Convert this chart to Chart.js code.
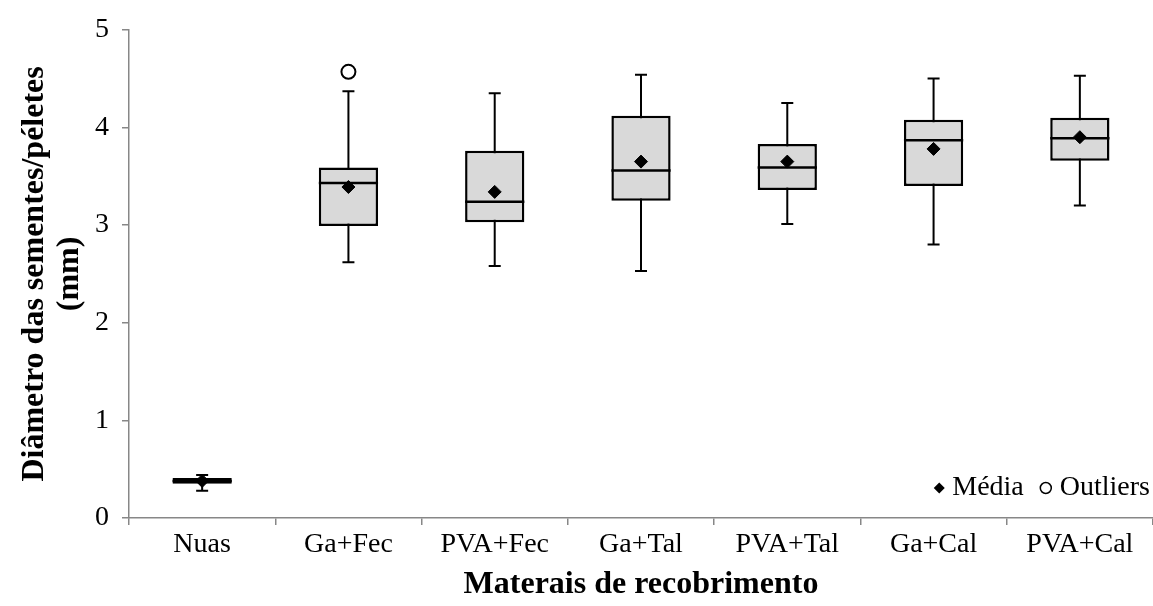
<!DOCTYPE html>
<html>
<head>
<meta charset="utf-8">
<script src="https://cdn.jsdelivr.net/npm/chart.js@4.4.0/dist/chart.umd.min.js"></script>
<style>
  html, body { margin: 0; padding: 0; background: #fff; overflow: hidden; }
  #wrap { width: 1162px; height: 606px; }
</style>
</head>
<body>
<div id="wrap"><canvas id="boxChart"></canvas></div>
<script>
// values (mm)
const labels   = ['Nuas', 'Ga+Fec', 'PVA+Fec', 'Ga+Tal', 'PVA+Tal', 'Ga+Cal', 'PVA+Cal'];
const mins     = [0.28, 2.62, 2.58, 2.53, 3.01, 2.80, 3.20];
const q1s      = [0.35, 2.99, 3.03, 3.25, 3.36, 3.40, 3.66];
const medians  = [0.38, 3.43, 3.24, 3.56, 3.59, 3.87, 3.89];
const q3s      = [0.41, 3.59, 3.76, 4.12, 3.83, 4.08, 4.10];
const maxs     = [0.44, 4.37, 4.35, 4.54, 4.25, 4.50, 4.53];
const means    = [0.38, 3.39, 3.34, 3.65, 3.65, 3.78, 3.90];
const outliers = [null, 4.57, null, null, null, null, null];
const yTicks   = [0, 1, 2, 3, 4, 5];

const serif = '"Liberation Serif", "Times New Roman", serif';
const axisGray = '#878787';

// whiskers under the boxes, median lines on top of them
const boxParts = {
  id: 'boxParts',
  beforeDatasetDraw(chart, args) {
    if (args.index !== 0) return;
    const { ctx, scales: { y } } = chart;
    ctx.save();
    ctx.strokeStyle = '#000';
    ctx.lineWidth = 2;
    args.meta.data.forEach((bar, i) => {
      const x = bar.x;
      const top = y.getPixelForValue(maxs[i]);
      const bot = y.getPixelForValue(mins[i]);
      ctx.beginPath();
      ctx.moveTo(x, top); ctx.lineTo(x, bot);
      ctx.moveTo(x - 6, top); ctx.lineTo(x + 6, top);
      ctx.moveTo(x - 6, bot); ctx.lineTo(x + 6, bot);
      ctx.stroke();
    });
    ctx.restore();
  },
  afterDatasetDraw(chart, args) {
    if (args.index !== 0) return;
    const { ctx, scales: { y } } = chart;
    ctx.save();
    ctx.strokeStyle = '#000';
    ctx.lineWidth = 2.5;
    args.meta.data.forEach((bar, i) => {
      const yy = y.getPixelForValue(medians[i]);
      ctx.beginPath();
      ctx.moveTo(bar.x - bar.width / 2, yy);
      ctx.lineTo(bar.x + bar.width / 2, yy);
      ctx.stroke();
    });
    ctx.restore();
  }
};

// small legend in the lower right corner of the plot
const markerLegend = {
  id: 'markerLegend',
  afterDraw(chart) {
    const { ctx, chartArea } = chart;
    const y = chartArea.bottom - 30;
    ctx.save();
    ctx.font = '28px ' + serif;
    ctx.textBaseline = 'middle';
    ctx.textAlign = 'right';
    ctx.fillStyle = '#000';
    ctx.strokeStyle = '#000';

    let x = 1150;
    ctx.fillText('Outliers', x, y);
    x -= ctx.measureText('Outliers').width + 14;
    ctx.lineWidth = 1.5;
    ctx.beginPath();
    ctx.arc(x, y, 5.5, 0, Math.PI * 2);
    ctx.stroke();

    x -= 22;
    ctx.fillText('Média', x, y);
    x -= ctx.measureText('Média').width + 13;
    ctx.beginPath();
    ctx.moveTo(x, y - 5.5); ctx.lineTo(x + 5.5, y);
    ctx.lineTo(x, y + 5.5); ctx.lineTo(x - 5.5, y);
    ctx.closePath();
    ctx.fill();
    ctx.restore();
  }
};

new Chart(document.getElementById('boxChart'), {
  data: {
    labels,
    datasets: [
      {
        type: 'bar',
        label: 'Caixa',
        data: q1s.map((v, i) => [v, q3s[i]]),
        backgroundColor: '#d9d9d9',
        borderColor: '#000',
        borderWidth: 2.5,
        borderSkipped: false,
        barPercentage: 0.405,
        categoryPercentage: 1,
        order: 3
      },
      {
        type: 'line',
        label: 'Média',
        data: means,
        showLine: false,
        pointStyle: 'rectRot',
        pointRadius: 6.5,
        pointBackgroundColor: '#000',
        pointBorderColor: '#000',
        pointBorderWidth: 1,
        order: 1
      },
      {
        type: 'line',
        label: 'Outliers',
        data: outliers,
        showLine: false,
        pointStyle: 'circle',
        pointRadius: 7,
        pointBackgroundColor: '#fff',
        pointBorderColor: '#000',
        pointBorderWidth: 2,
        order: 1
      }
    ]
  },
  options: {
    responsive: true,
    maintainAspectRatio: false,
    animation: false,
    layout: { padding: { top: 24, right: 2, left: 0, bottom: 0 } },
    plugins: { legend: { display: false }, tooltip: { enabled: false } },
    scales: {
      x: {
        grid: { drawOnChartArea: false, offset: true, tickLength: 7, color: axisGray, lineWidth: 1.5 },
        border: { color: axisGray, width: 1.5 },
        ticks: { font: { family: serif, size: 28 }, color: '#000', padding: 3, maxRotation: 0, autoSkip: false },
        title: {
          display: true,
          text: 'Materais de recobrimento',
          font: { family: serif, size: 32, weight: 'bold', lineHeight: 1.2 },
          color: '#000',
          padding: { top: 0, bottom: 2 }
        },
        afterFit: s => { s.height = 88; }
      },
      y: {
        min: 0,
        max: 5,
        afterBuildTicks: s => { s.ticks = yTicks.map(v => ({ value: v })); },
        grid: { drawOnChartArea: false, tickLength: 7, color: axisGray, lineWidth: 1.5 },
        border: { color: axisGray, width: 1.5 },
        ticks: { font: { family: serif, size: 28 }, color: '#000', padding: 13 },
        title: {
          display: true,
          text: ['Diâmetro das sementes/péletes', '(mm)'],
          font: { family: serif, size: 32, weight: 'bold', lineHeight: 1.1 },
          color: '#000',
          padding: { top: 17, bottom: 0 }
        },
        afterFit: s => { s.width = 129; }
      }
    }
  },
  plugins: [boxParts, markerLegend]
});
</script>
</body>
</html>
